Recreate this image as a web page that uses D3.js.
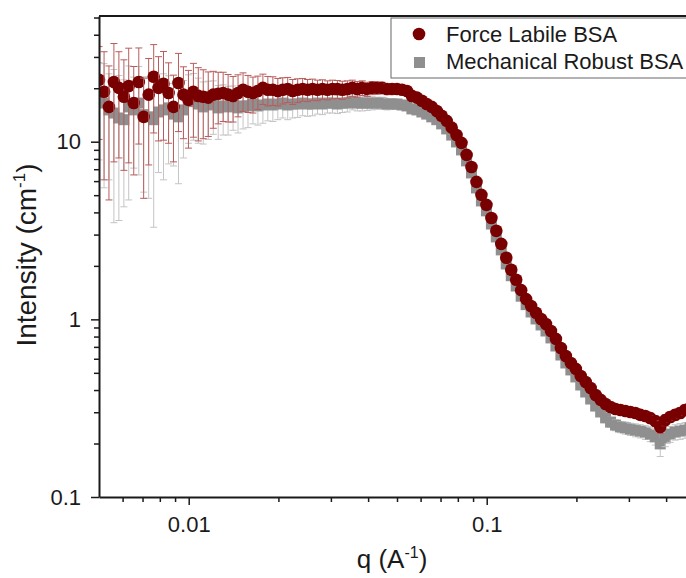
<!DOCTYPE html>
<html>
<head>
<meta charset="utf-8">
<script src="https://cdn.jsdelivr.net/npm/d3@7"></script>
<style>
  body { margin: 0; background: #fff; }
  svg { display: block; font-family: "Liberation Sans", Arial, sans-serif; }
</style>
</head>
<body>
<div id="main"></div>
<script>
// scattering vector q (A^-1)
const q = [
  0.00500,0.00520,0.00540,0.00561,0.00583,0.00606,0.00629,0.00654,0.00680,0.00706,
  0.00734,0.00763,0.00792,0.00823,0.00856,0.00889,0.00924,0.00960,0.00998,0.01037,
  0.01077,0.01119,0.01163,0.01209,0.01256,0.01305,0.01356,0.01409,0.01464,0.01522,
  0.01581,0.01643,0.01707,0.01774,0.01843,0.01916,0.01991,0.02068,0.02149,0.02233,
  0.02321,0.02412,0.02506,0.02604,0.02706,0.02812,0.02922,0.03036,0.03155,0.03278,
  0.03406,0.03540,0.03678,0.03822,0.03972,0.04127,0.04289,0.04456,0.04631,0.04812,
  0.0500,0.0520,0.0540,0.0561,0.0583,0.0606,0.0629,0.0654,0.0680,0.0706,
  0.0734,0.0763,0.0792,0.0823,0.0856,0.0889,0.0924,0.0960,0.0998,0.1037,
  0.1077,0.1119,0.1163,0.1209,0.1256,0.1305,0.1356,0.1409,0.1464,0.1522,
  0.1581,0.1643,0.1707,0.1774,0.1843,0.1916,0.1991,0.2068,0.2149,0.2233,
  0.2321,0.2412,0.2506,0.2604,0.2706,0.2812,0.2922,0.3036,0.3155,0.3278,
  0.3406,0.3540,0.3678,0.3822,0.3972,0.4127,0.4289,0.4456,0.4631,0.4812
];

// Force Labile BSA intensity (cm^-1) and its error
const labileI = [
  22.3,19.1,15.7,21.7,20.1,17.9,20.6,16.5,21.7,13.8,
  18.4,23.2,20.1,21.2,18.8,15.7,21.4,18.4,17.2,19.1,
  18.1,17.9,17.7,18.4,18.6,18.8,18.4,18.1,18.8,19.6,
  19.1,18.8,19.3,20.1,19.6,19.6,19.3,19.6,19.8,19.3,
  19.6,19.8,19.6,19.8,19.6,19.8,19.6,19.8,19.8,19.6,
  19.8,20.1,19.8,20.1,19.8,20.1,20.1,20.1,19.8,19.8,
  19.8,19.6,19.3,18.1,17.7,17.0,16.3,15.7,14.9,14.0,
  13.1,12.0,10.9,9.85,8.43,7.21,5.94,5.02,4.41,3.72,
  3.15,2.66,2.22,1.90,1.67,1.46,1.30,1.19,1.09,1.005,
  0.942,0.860,0.776,0.690,0.622,0.568,0.526,0.480,0.444,0.411,
  0.375,0.352,0.334,0.321,0.313,0.309,0.305,0.301,0.297,0.290,
  0.286,0.278,0.268,0.248,0.271,0.282,0.290,0.297,0.309,0.317
];
const labileErr = [
  12,13,11,14,12,11,13,10,12,9,
  11,12,10,11,9,8,10,8,8,8.5,
  8,7.5,7,6.5,6,5.8,5.5,5.2,5,4.8,
  4.5,4.3,4.1,3.9,3.7,3.6,3.4,3.3,3.2,3.1,
  3.0,2.9,2.8,2.7,2.6,2.5,2.4,2.4,2.3,2.3,
  2.2,2.1,2.0,1.9,1.8,1.7,1.6,1.5,1.4,1.3,
  1.2,1.1,1.0,0.8,0.7,0.6,0.5,0.45,0.4,0.35,
  0.3,0.28,0.25,0.22,0.2,0.17,0.14,0.12,0.1,0.09,
  0.08,0.07,0.06,0.05,0.045,0.04,0.036,0.034,0.032,0.03,
  0.029,0.027,0.025,0.023,0.021,0.02,0.019,0.018,0.017,0.016,
  0.016,0.015,0.015,0.015,0.015,0.015,0.016,0.016,0.016,0.017,
  0.017,0.018,0.018,0.02,0.019,0.019,0.02,0.02,0.021,0.021
];

// Mechanical Robust BSA intensity (cm^-1) and its error
const robustI = [
  17.9,16.5,15.1,14.5,13.6,13.3,15.7,15.1,16.5,14.2,
  13.8,13.3,14.7,15.1,15.5,14.3,13.8,15.1,16.8,17.2,
  16.3,15.7,16.1,16.5,15.5,15.9,15.7,16.1,15.5,15.9,
  15.9,16.3,15.9,16.1,16.3,16.1,16.3,16.5,16.1,16.3,
  16.3,16.5,16.3,16.3,16.5,16.3,16.5,16.5,16.3,16.5,
  16.5,16.8,16.5,16.5,16.5,16.5,16.5,16.5,16.3,16.3,
  16.3,16.1,15.9,15.3,15.1,14.7,14.3,13.8,13.3,12.6,
  11.8,10.9,9.97,8.99,7.80,6.67,5.49,4.64,4.08,3.44,
  2.91,2.46,2.05,1.76,1.54,1.35,1.21,1.10,1.005,0.930,
  0.860,0.786,0.708,0.630,0.568,0.519,0.474,0.427,0.390,0.356,
  0.325,0.301,0.279,0.264,0.254,0.248,0.245,0.241,0.238,0.235,
  0.232,0.226,0.218,0.199,0.215,0.226,0.232,0.235,0.238,0.245
];
const robustErr = [
  10,11,9,11,10,9,11,8,10,9,
  9,10,8,9,8,7,8,7,7,7,
  6.5,6,5.8,5.5,5.2,5,4.8,4.5,4.3,4.1,
  3.9,3.7,3.5,3.4,3.2,3.1,3.0,2.9,2.8,2.7,
  2.6,2.5,2.4,2.3,2.2,2.1,2.0,2.0,1.9,1.9,
  1.8,1.7,1.6,1.6,1.5,1.4,1.3,1.3,1.2,1.1,
  1.0,0.9,0.8,0.7,0.6,0.55,0.5,0.45,0.4,0.35,
  0.3,0.25,0.22,0.2,0.18,0.15,0.13,0.11,0.1,0.08,
  0.07,0.06,0.05,0.045,0.04,0.036,0.033,0.031,0.029,0.027,
  0.026,0.024,0.022,0.02,0.019,0.018,0.017,0.016,0.016,0.016,
  0.016,0.016,0.017,0.017,0.018,0.018,0.019,0.019,0.02,0.02,
  0.021,0.021,0.022,0.03,0.023,0.023,0.023,0.024,0.024,0.025
];

const seriesNames = ["Force Labile BSA", "Mechanical Robust BSA"];
const xMajor = [0.01, 0.1];
const xMinor = [0.006,0.007,0.008,0.009,0.02,0.03,0.04,0.05,0.06,0.07,0.08,0.09,0.2,0.3,0.4];
const yMajor = [0.1, 1, 10];
const yMinor = [0.2,0.3,0.4,0.5,0.6,0.7,0.8,0.9,2,3,4,5,6,7,8,9,20,30,40,50];

document.addEventListener("DOMContentLoaded", () => {
  const W = 686, H = 578;
  const L = 99, T = 16, R = 695, B = 497;
  const ink = "#1a1a1a";

  const svg = d3.select("#main").append("svg").attr("width", W).attr("height", H);

  const x = d3.scaleLog().domain([0.005, 0.5]).range([L, R]);
  const y = d3.scaleLog().domain([0.1, 51]).range([B, T]);

  svg.append("defs").append("clipPath").attr("id", "plotClip")
    .append("rect").attr("x", L).attr("y", T).attr("width", R - L).attr("height", B - T);

  const plot = svg.append("g").attr("clip-path", "url(#plotClip)");

  function errPath(d) {
    const xc = x(d.q);
    const yt = y(d.v + d.e);
    const yb = y(Math.max(d.v - d.e, 0.01));
    const c = 3.5;
    return `M${xc},${yb}V${yt}M${xc - c},${yt}H${xc + c}M${xc - c},${yb}H${xc + c}`;
  }

  // each point: its error bar first, then its marker on top
  function drawSeries(vals, errs, shape, fill, errColor) {
    const data = q.map((d, i) => ({ q: d, v: vals[i], e: errs[i] }));
    const pts = plot.append("g").selectAll("g").data(data).join("g");
    pts.append("path").attr("d", errPath)
      .attr("fill", "none").attr("stroke", errColor).attr("stroke-width", 1);
    if (shape === "square") {
      pts.append("rect")
        .attr("x", d => x(d.q) - 5.5).attr("y", d => y(d.v) - 5.5)
        .attr("width", 11).attr("height", 11)
        .attr("fill", fill);
    } else {
      pts.append("circle")
        .attr("cx", d => x(d.q)).attr("cy", d => y(d.v)).attr("r", 6.3)
        .attr("fill", fill);
    }
  }

  drawSeries(robustI, robustErr, "square", "#8f8f8f", "#c4c4c4");
  drawSeries(labileI, labileErr, "circle", "#790000", "#b85c5c");

  // axes
  const axisStyle = g => {
    g.select(".domain").attr("stroke", ink).attr("stroke-width", 2);
    g.selectAll(".tick line").attr("stroke", ink).attr("stroke-width", 1.5);
    g.selectAll(".tick text").attr("fill", ink).attr("font-size", 22)
      .attr("font-family", "'Liberation Sans', Arial, sans-serif");
  };

  svg.append("g").attr("transform", `translate(0,${B})`)
    .call(d3.axisBottom(x).tickValues(xMinor).tickFormat("").tickSize(5).tickSizeOuter(0))
    .call(g => g.select(".domain").remove())
    .call(axisStyle);
  svg.append("g").attr("transform", `translate(0,${B})`)
    .call(d3.axisBottom(x).tickValues(xMajor).tickFormat(d3.format("")).tickSize(8).tickPadding(11).tickSizeOuter(0))
    .call(axisStyle);

  svg.append("g").attr("transform", `translate(${L},0)`)
    .call(d3.axisLeft(y).tickValues(yMinor).tickFormat("").tickSize(5).tickSizeOuter(0))
    .call(g => g.select(".domain").remove())
    .call(axisStyle);
  svg.append("g").attr("transform", `translate(${L},0)`)
    .call(d3.axisLeft(y).tickValues(yMajor).tickFormat(d3.format("")).tickSize(8).tickPadding(10).tickSizeOuter(0))
    .call(axisStyle);

  // top and right frame lines
  svg.append("path").attr("d", `M${L},${T}H${R}V${B}`)
    .attr("fill", "none").attr("stroke", ink).attr("stroke-width", 2);

  // axis titles
  const yt = svg.append("text")
    .attr("transform", "translate(36,255) rotate(-90)")
    .attr("text-anchor", "middle").attr("font-size", 28).attr("fill", ink);
  yt.append("tspan").text("Intensity (cm");
  yt.append("tspan").attr("font-size", 17).attr("dy", -11).text("-1");
  yt.append("tspan").attr("dy", 11).text(")");

  const xt = svg.append("text")
    .attr("x", 392).attr("y", 568)
    .attr("text-anchor", "middle").attr("font-size", 26).attr("fill", ink);
  xt.append("tspan").text("q (A");
  xt.append("tspan").attr("font-size", 16).attr("dy", -10).text("-1");
  xt.append("tspan").attr("dy", 10).text(")");

  // legend
  const lg = svg.append("g");
  lg.append("rect").attr("x", 391).attr("y", 18).attr("width", 320).attr("height", 60)
    .attr("fill", "#fff").attr("stroke", "#666").attr("stroke-width", 1);
  lg.append("circle").attr("cx", 419).attr("cy", 34).attr("r", 6.3).attr("fill", "#790000");
  lg.append("rect").attr("x", 414).attr("y", 57).attr("width", 11).attr("height", 11).attr("fill", "#8f8f8f");
  lg.selectAll("text.lab").data(seriesNames).join("text")
    .attr("class", "lab")
    .attr("x", 446).attr("y", (d, i) => 42 + i * 27)
    .attr("font-size", 22).attr("fill", ink)
    .text(d => d);
});
</script>
</body>
</html>
